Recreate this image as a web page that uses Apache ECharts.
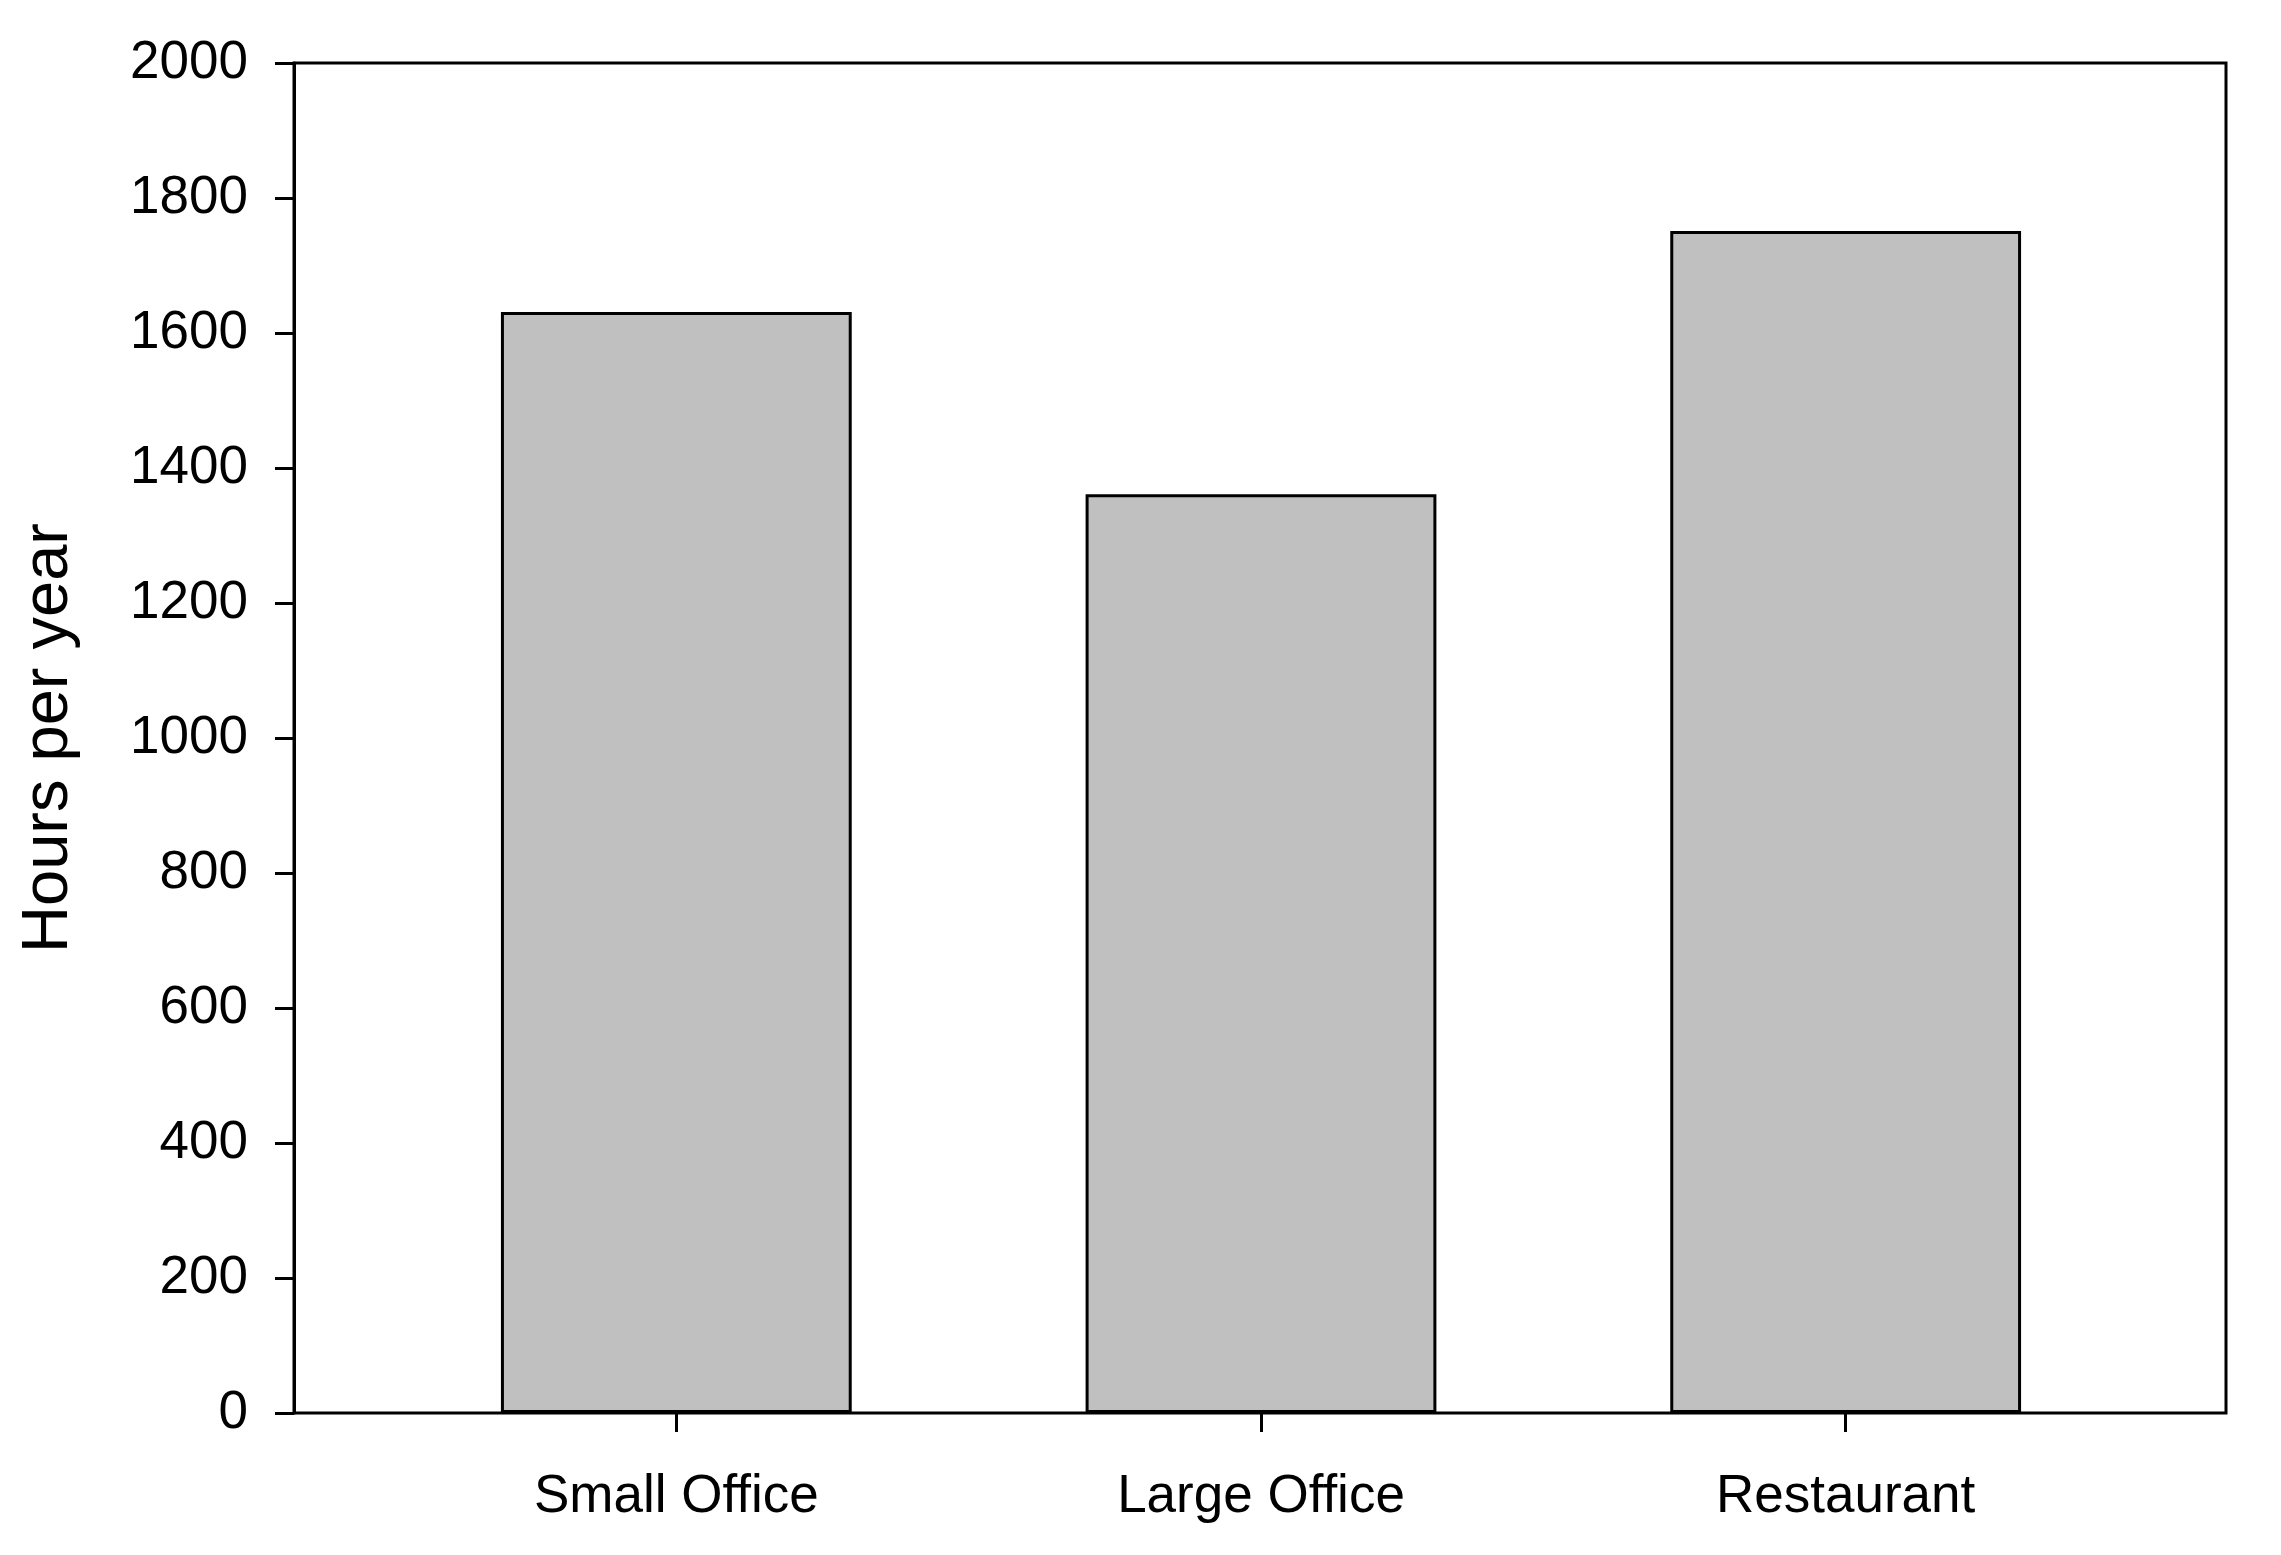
<!DOCTYPE html>
<html>
<head>
<meta charset="utf-8">
<script src="https://cdn.jsdelivr.net/npm/echarts@6/dist/echarts.min.js"></script>
<style>
html,body{margin:0;padding:0;background:#fff;}
#chart{width:2281px;height:1555px;}
</style>
</head>
<body>
<div id="chart"></div>
<script>
const categories = ['Small Office', 'Large Office', 'Restaurant'];
const hoursPerYear = [1631, 1361, 1751];
const yMin = 0, yMax = 2000, yStep = 200;
const yTitle = 'Hours per year';

const FONT = '"Liberation Sans", Arial, sans-serif';
const chart = echarts.init(document.getElementById('chart'), null, {renderer: 'canvas'});
chart.setOption({
  backgroundColor: '#ffffff',
  animation: false,
  grid: [
    {left: 294, right: 55, top: 63, bottom: 142, show: true, borderColor: '#000', borderWidth: 3, backgroundColor: 'transparent'},
    {left: 384, width: 1754, top: 63, bottom: 142}
  ],
  xAxis: [
    {gridIndex: 0, type: 'value', show: false, min: 0, max: 1},
    {gridIndex: 1, type: 'category', data: categories, boundaryGap: true,
     axisLine: {show: false},
     axisTick: {show: true, alignWithLabel: true, length: 19, lineStyle: {color: '#000', width: 3}},
     axisLabel: {color: '#000', fontSize: 53, fontFamily: FONT, margin: 58},
     splitLine: {show: false}}
  ],
  yAxis: [
    {gridIndex: 0, type: 'value', min: yMin, max: yMax, interval: yStep,
     name: yTitle, nameLocation: 'middle', nameGap: 212, nameRotate: 90,
     nameTextStyle: {color: '#000', fontSize: 65, fontFamily: FONT},
     axisLine: {show: true, lineStyle: {color: '#000', width: 3}},
     axisTick: {show: true, inside: false, length: 19, lineStyle: {color: '#000', width: 3}},
     axisLabel: {color: '#000', fontSize: 53, fontFamily: FONT, margin: 46, formatter: v => String(v)},
     splitLine: {show: false}},
    {gridIndex: 1, type: 'value', min: yMin, max: yMax, show: false, splitLine: {show: false}}
  ],
  series: [{
    type: 'bar', xAxisIndex: 1, yAxisIndex: 1,
    data: hoursPerYear, barWidth: '60%',
    itemStyle: {color: '#c0c0c0', borderColor: '#000', borderWidth: 3}
  }]
});
</script>
</body>
</html>
